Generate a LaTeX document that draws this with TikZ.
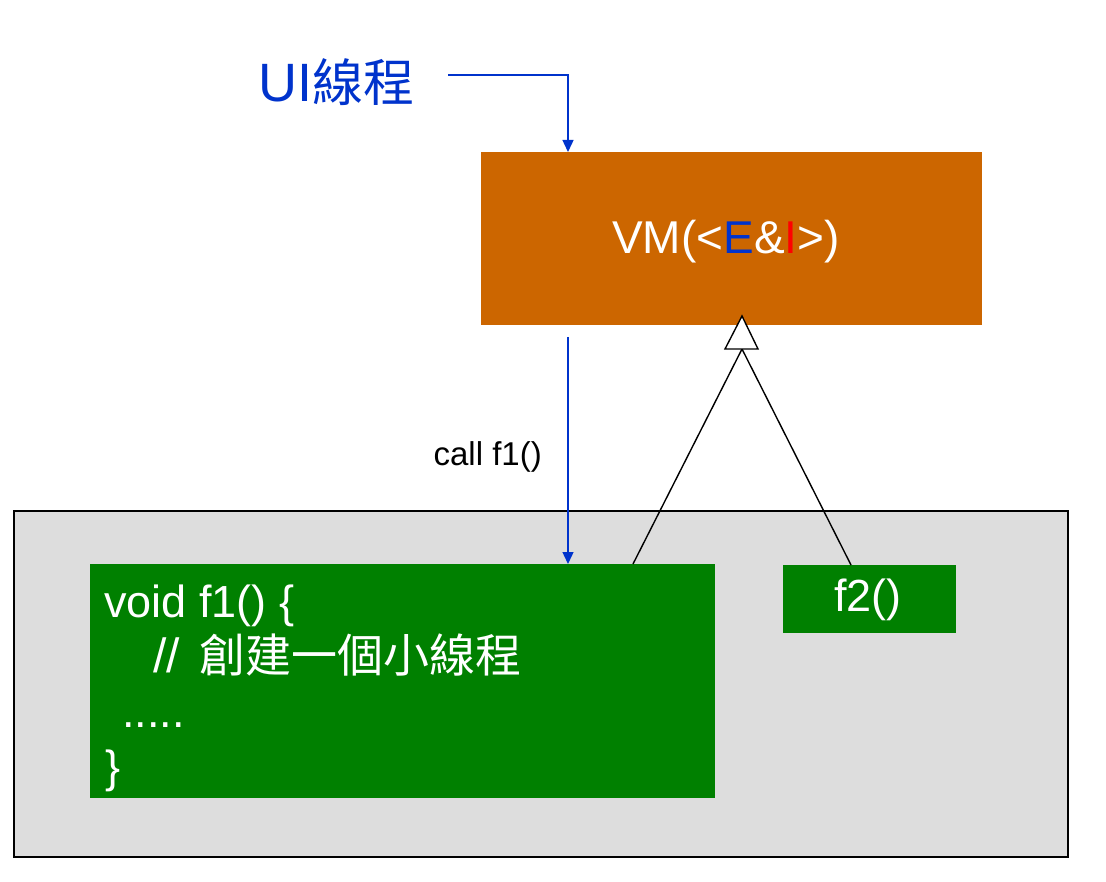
\documentclass[tikz,border=0pt]{standalone}
\usepackage{fontspec}
\setmainfont{Liberation Sans}
\newfontfamily\cjk{Noto Sans CJK TC}
\usetikzlibrary{arrows.meta}
\definecolor{vmorange}{HTML}{CC6600}
\definecolor{codegreen}{HTML}{008000}
\definecolor{panelgray}{HTML}{DDDDDD}
\definecolor{uiblue}{HTML}{0033CC}
\definecolor{ired}{HTML}{FF0000}
\begin{document}
\begin{tikzpicture}[x=1pt,y=-1pt,
  box/.style={draw=none,inner sep=0pt,outer sep=0pt,anchor=north west},
  codeline/.style={anchor=base west,inner sep=0pt,text=white,font=\fontsize{45}{50}\selectfont},
  bluearrow/.style={draw=uiblue,line width=1.4pt,-{Triangle[length=12pt,width=11pt]}},
  inherit/.style={draw=black,line width=1.4pt}]
\useasboundingbox (0,0) rectangle (1106,882);
% panel
\node[box,fill=panelgray,draw=black,line width=1.2pt,minimum width=1054pt,minimum height=346pt] (panel) at (14,511) {};
% VM box
\node[box,fill=vmorange,minimum width=501pt,minimum height=173pt] (vm) at (481,152) {};
\node[text=white,font=\fontsize{46}{50}\selectfont,inner sep=0pt] (vmtext) at (726,242) {VM(<\textcolor{uiblue}{E}\&\textcolor{ired}{I}>)};
% f1 box
\node[box,fill=codegreen,minimum width=625pt,minimum height=234pt] (f1) at (90,564) {};
\node[codeline] (l1) at (104,617) {void f1() \{};
\node[codeline] (l2) at (153,672) {\fontsize{48}{50}\selectfont//\hspace{20pt}{\cjk\fontsize{46}{50}\selectfont 創建一個小線程}};
\node[codeline] (l3) at (122,727) {.....};
\node[codeline] (l4) at (105,782) {\}};
% f2 box
\node[box,fill=codegreen,minimum width=173pt,minimum height=68pt] (f2) at (783,565) {};
\node[text=white,font=\fontsize{45}{50}\selectfont,inner sep=0pt] (f2text) at (868,600) {f2()};
% UI thread label
\node[anchor=base west,inner sep=0pt,text=uiblue] (ui) at (258,102) {\fontsize{54}{60}\selectfont UI{\cjk\fontsize{51}{60}\selectfont 線程}};
% arrows
\coordinate (uistart) at (448,75);
\coordinate (uicorner) at (568,75);
\coordinate (vmtop) at (568,152);
\draw[bluearrow] (uistart) -- (uicorner) -- (vmtop);
\coordinate (callstart) at (568,337);
\coordinate (f1top) at (568,564);
\draw[bluearrow] (callstart) -- (f1top);
\node[anchor=base east,inner sep=0pt,font=\fontsize{33}{36}\selectfont] (call) at (542,465) {call f1()};
% inheritance
\coordinate (tribase) at (742,349);
\coordinate (f1link) at (633,564);
\coordinate (f2link) at (851,565);
\draw[inherit] (f1link) -- (tribase) -- (f2link);
\draw[inherit,fill=white,line join=miter] (742,316) -- (758,349) -- (725,349) -- cycle;
\end{tikzpicture}
\end{document}
